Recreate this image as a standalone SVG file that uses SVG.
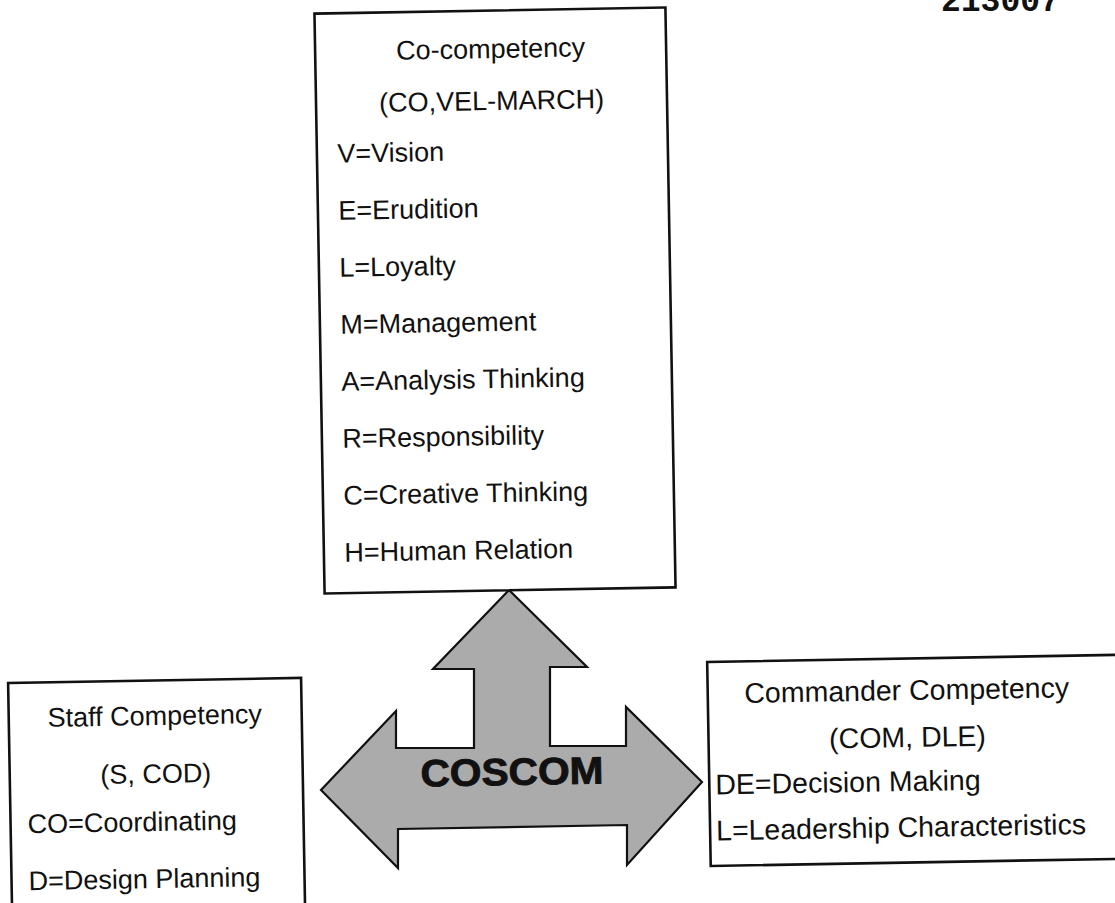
<svg xmlns="http://www.w3.org/2000/svg" width="1115" height="903" viewBox="0 0 1115 903">
<style>
.box{fill:#fff;stroke:#111;stroke-width:2.6}
.t{font-family:"Liberation Sans",Arial,sans-serif;font-size:27px;fill:#111}
.r{font-size:28.5px}
.c{text-anchor:middle}
.arrow{fill:#ababab;stroke:#111;stroke-width:2.2;stroke-linejoin:miter}
.big{font-family:"Liberation Sans",Arial,sans-serif;font-size:38px;font-weight:bold;fill:#111;stroke:#111;stroke-width:0.9;text-anchor:middle}
.pg{font-family:"Liberation Mono","Courier New",monospace;font-size:33px;font-weight:bold;fill:#111}
</style>
<rect width="1115" height="903" fill="#fff"/>
<text class="pg" x="941" y="11">213007</text>
<g id="connectors">
<g id="coscom">
<polygon class="arrow" points="509,590 587,667 550,667 550,746 626,746 626,707 702,782 627,865 627,825 398,829 398,868 321,790 396,711 396,748 474,748 474,669 433,669"/>
<text class="big" x="512" y="785" transform="rotate(-1 512 772)" textLength="183" lengthAdjust="spacingAndGlyphs">COSCOM</text>
</g>
</g>
<g id="co-competency" transform="rotate(-1 495 300.5)">
<rect class="box" x="319.5" y="10.5" width="351" height="580"/>
<text class="t c" x="495" y="58">Co-competency</text>
<text class="t c" x="495" y="110">(CO,VEL-MARCH)</text>
<text class="t" x="340" y="160">V=Vision</text>
<text class="t" x="340" y="217">E=Erudition</text>
<text class="t" x="340" y="274">L=Loyalty</text>
<text class="t" x="340" y="331">M=Management</text>
<text class="t" x="340" y="388">A=Analysis Thinking</text>
<text class="t" x="340" y="445">R=Responsibility</text>
<text class="t" x="340" y="502">C=Creative Thinking</text>
<text class="t" x="340" y="559">H=Human Relation</text>
</g>
<g id="staff" transform="rotate(-1 155 790)">
<rect class="box" x="10" y="680.5" width="293" height="260"/>
<text class="t c" x="156" y="725">Staff Competency</text>
<text class="t c" x="156" y="783">(S, COD)</text>
<text class="t" x="27" y="831">CO=Coordinating</text>
<text class="t" x="27" y="888">D=Design Planning</text>
</g>
<g id="commander" transform="rotate(-1 910 765)">
<rect class="box" x="709" y="658.5" width="420" height="204"/>
<text class="t r c" x="908" y="700">Commander Competency</text>
<text class="t r c" x="908" y="747">(COM, DLE)</text>
<text class="t r" x="715" y="791">DE=Decision Making</text>
<text class="t r" x="715" y="837">L=Leadership Characteristics</text>
</g>
</svg>
